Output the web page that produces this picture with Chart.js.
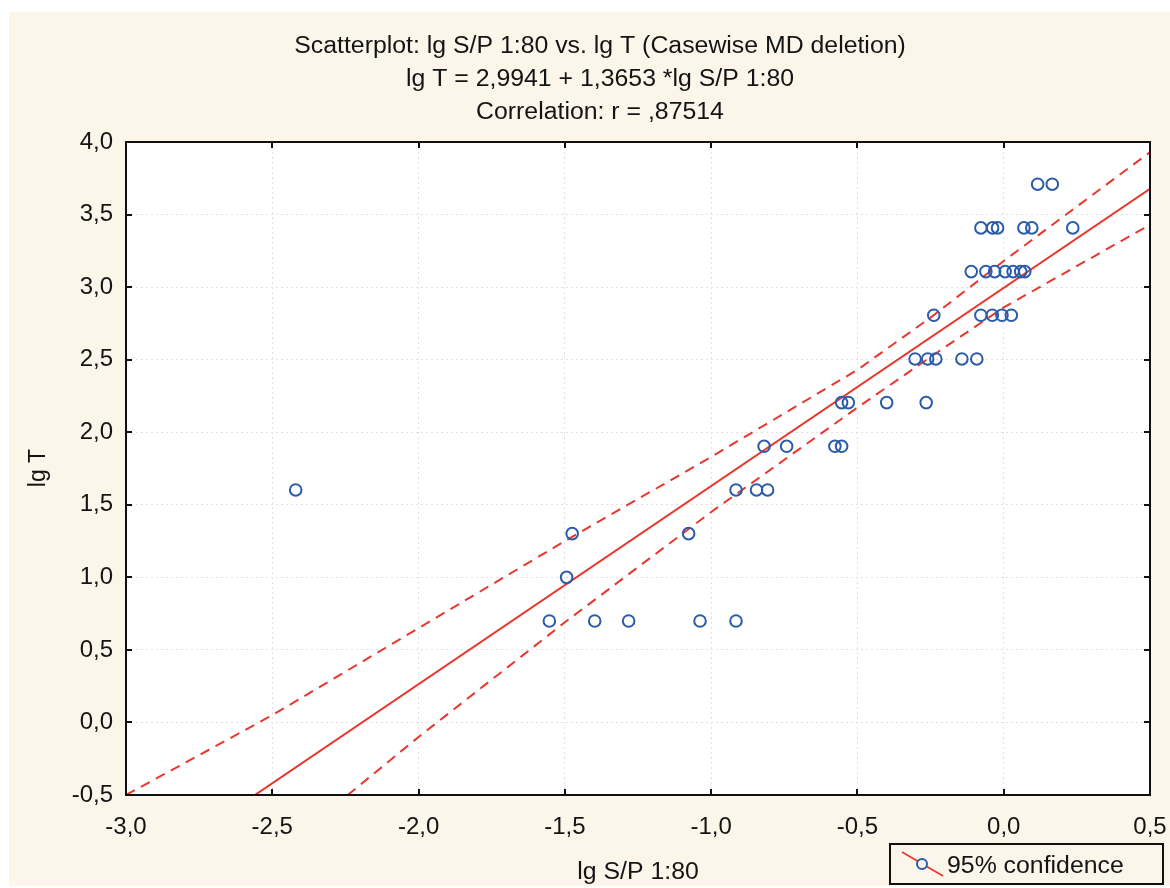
<!DOCTYPE html>
<html>
<head>
<meta charset="utf-8">
<script src="https://cdn.jsdelivr.net/npm/chart.js@4.4.1/dist/chart.umd.min.js"></script>
<style>
  html, body { margin: 0; padding: 0; background: #ffffff; }
  #wrap { width: 1170px; height: 888px; position: relative; }
</style>
</head>
<body>
<div id="wrap"><canvas id="c" width="1170" height="888"></canvas></div>
<script>
// ---- Data ----
const titleLines = [
  'Scatterplot: lg S/P 1:80 vs. lg T (Casewise MD deletion)',
  'lg T = 2,9941 + 1,3653 *lg S/P 1:80',
  'Correlation: r = ,87514'
];
const xAxisTitle = 'lg S/P 1:80';
const yAxisTitle = 'lg T';
const legendLabel = '95% confidence';

// observed points: lg S/P 1:80 (x) and lg T (y)
const lgSP = [
  0.116, 0.166,
  -0.078, -0.038, -0.021, 0.069, 0.096, 0.236,
  -0.111, -0.061, -0.031, 0.005, 0.032, 0.058, 0.072,
  -0.239, -0.078, -0.039, -0.006, 0.026,
  -0.303, -0.260, -0.232, -0.143, -0.092,
  -0.554, -0.531, -0.400, -0.265,
  -0.819, -0.742, -0.577, -0.554,
  -2.420, -0.915, -0.845, -0.807,
  -1.475, -1.077,
  -1.494,
  -1.553, -1.398, -1.282, -1.038, -0.915
];
const lgT = [
  3.709, 3.709,
  3.408, 3.408, 3.408, 3.408, 3.408, 3.408,
  3.107, 3.107, 3.107, 3.107, 3.107, 3.107, 3.107,
  2.806, 2.806, 2.806, 2.806, 2.806,
  2.505, 2.505, 2.505, 2.505, 2.505,
  2.204, 2.204, 2.204, 2.204,
  1.903, 1.903, 1.903, 1.903,
  1.602, 1.602, 1.602, 1.602,
  1.301, 1.301,
  1.000,
  0.699, 0.699, 0.699, 0.699, 0.699
];

// regression line from the printed equation
const fitIntercept = 2.9941;
const fitSlope = 1.3653;
const fitX = [-3.0, 0.5];

// 95% confidence band
const upperX = [-3.0, -2.5, -2.0, -1.5, -1.0, -0.5, -0.25, 0.0, 0.5];
const upperY = [-0.50, 0.05, 0.65, 1.25, 1.83, 2.43, 2.79, 3.18, 3.93];
const lowerX = [-2.242, -2.0, -1.5, -1.0, -0.5, -0.22, 0.0, 0.5];
const lowerY = [-0.50, -0.10, 0.69, 1.45, 2.17, 2.56, 2.86, 3.43];

// axis ranges / ticks
const xMin = -3.0, xMax = 0.5, xStep = 0.5;
const yMin = -0.5, yMax = 4.0, yStep = 0.5;

// ---- Styles ----
const CREAM = '#fcf5ea';
const BLUE = '#2a5caa';
const RED = '#e8372e';
const FONT = '"Liberation Sans", Arial, Helvetica, sans-serif';

const pts = lgSP.map((x, i) => ({ x: x, y: lgT[i] }));
const fitPts = fitX.map(x => ({ x: x, y: fitIntercept + fitSlope * x }));
const upPts = upperX.map((x, i) => ({ x: x, y: upperY[i] }));
const loPts = lowerX.map((x, i) => ({ x: x, y: lowerY[i] }));

const fmt = v => {
  const s = (Math.round(v * 10) / 10).toFixed(1).replace('.', ',');
  return s === '-0,0' ? '0,0' : s;
};

function stretchedText(ctx, text, x, y, align, sx) {
  ctx.save();
  ctx.translate(x, y);
  ctx.scale(sx, 1);
  ctx.textAlign = align;
  ctx.fillText(text, 0, 0);
  ctx.restore();
}

const decor = {
  id: 'decor',
  beforeDraw(chart) {
    const ctx = chart.ctx, a = chart.chartArea;
    ctx.save();
    ctx.fillStyle = '#ffffff';
    ctx.fillRect(0, 0, chart.width, chart.height);
    ctx.fillStyle = CREAM;
    ctx.fillRect(9, 12, chart.width - 9, chart.height - 14);
    ctx.fillStyle = '#ffffff';
    ctx.fillRect(a.left, a.top, a.right - a.left, a.bottom - a.top);
    ctx.restore();
  },
  afterDraw(chart) {
    const ctx = chart.ctx, a = chart.chartArea;
    const xs = chart.scales.x, ys = chart.scales.y;
    ctx.save();
    // frame
    ctx.strokeStyle = '#111111';
    ctx.lineWidth = 2;
    ctx.strokeRect(a.left, a.top, a.right - a.left, a.bottom - a.top);
    // inner ticks
    ctx.lineWidth = 2;
    ctx.beginPath();
    xs.ticks.forEach(t => {
      const px = Math.round(xs.getPixelForValue(t.value));
      ctx.moveTo(px, a.bottom); ctx.lineTo(px, a.bottom - 6);
      ctx.moveTo(px, a.top); ctx.lineTo(px, a.top + 6);
    });
    ys.ticks.forEach(t => {
      const py = Math.round(ys.getPixelForValue(t.value));
      ctx.moveTo(a.left, py); ctx.lineTo(a.left + 6, py);
      ctx.moveTo(a.right, py); ctx.lineTo(a.right - 6, py);
    });
    ctx.stroke();

    // titles
    ctx.fillStyle = '#141414';
    ctx.font = '23px ' + FONT;
    ctx.textBaseline = 'alphabetic';
    const baselines = [53, 86, 119];
    titleLines.forEach((t, i) => stretchedText(ctx, t, 600, baselines[i], 'center', 1.08));

    // axis titles
    stretchedText(ctx, xAxisTitle, 638, 879, 'center', 1.08);
    ctx.save();
    ctx.translate(45, 468);
    ctx.rotate(-Math.PI / 2);
    ctx.textAlign = 'center';
    ctx.fillText(yAxisTitle, 0, 0);
    ctx.restore();

    // legend
    ctx.fillStyle = CREAM;
    ctx.fillRect(890, 844, 273, 40);
    ctx.strokeStyle = '#111111';
    ctx.lineWidth = 2;
    ctx.strokeRect(890, 844, 273, 40);
    ctx.strokeStyle = RED;
    ctx.lineWidth = 1.6;
    ctx.beginPath();
    ctx.moveTo(902, 852); ctx.lineTo(943, 876);
    ctx.stroke();
    ctx.fillStyle = CREAM;
    ctx.strokeStyle = BLUE;
    ctx.lineWidth = 2;
    ctx.beginPath();
    ctx.arc(922, 864, 5, 0, Math.PI * 2);
    ctx.fill();
    ctx.stroke();
    ctx.fillStyle = '#141414';
    ctx.font = '23px ' + FONT;
    stretchedText(ctx, legendLabel, 947, 873, 'left', 1.08);
    ctx.restore();
  }
};

new Chart(document.getElementById('c'), {
  type: 'scatter',
  data: {
    datasets: [
      {
        label: 'lg T',
        data: pts,
        showLine: false,
        pointStyle: 'circle',
        pointRadius: 5.8,
        pointBorderWidth: 2,
        pointBorderColor: BLUE,
        pointBackgroundColor: 'rgba(0,0,0,0)',
        pointHoverRadius: 5.8
      },
      {
        label: 'fit',
        data: fitPts,
        showLine: true,
        borderColor: RED,
        borderWidth: 2,
        pointRadius: 0,
        pointHoverRadius: 0
      },
      {
        label: '95% upper',
        data: upPts,
        showLine: true,
        borderColor: RED,
        borderWidth: 2,
        borderDash: [10, 7],
        pointRadius: 0,
        pointHoverRadius: 0
      },
      {
        label: '95% lower',
        data: loPts,
        showLine: true,
        borderColor: RED,
        borderWidth: 2,
        borderDash: [10, 7],
        pointRadius: 0,
        pointHoverRadius: 0
      }
    ]
  },
  options: {
    responsive: false,
    animation: false,
    devicePixelRatio: 1,
    layout: { padding: { top: 142, right: 20, left: 0, bottom: 0 } },
    plugins: {
      legend: { display: false },
      title: { display: false },
      tooltip: { enabled: false }
    },
    scales: {
      x: {
        type: 'linear',
        min: xMin, max: xMax,
        afterFit: s => { s.height = 93; s.paddingLeft = 0; s.paddingRight = 0; },
        ticks: {
          stepSize: xStep,
          callback: v => fmt(v),
          color: '#141414',
          font: { family: FONT, size: 24 },
          padding: 18,
          maxRotation: 0,
          autoSkip: false
        },
        grid: { color: '#e2e2e2', lineWidth: 1, drawTicks: false },
        border: { display: false, dash: [2, 3] }
      },
      y: {
        type: 'linear',
        min: yMin, max: yMax,
        afterFit: s => { s.width = 126; s.paddingTop = 0; s.paddingBottom = 0; },
        ticks: {
          stepSize: yStep,
          callback: v => fmt(v),
          color: '#141414',
          font: { family: FONT, size: 24 },
          padding: 13,
          autoSkip: false
        },
        grid: { color: '#e2e2e2', lineWidth: 1, drawTicks: false },
        border: { display: false, dash: [2, 3] }
      }
    }
  },
  plugins: [decor]
});
</script>
</body>
</html>
